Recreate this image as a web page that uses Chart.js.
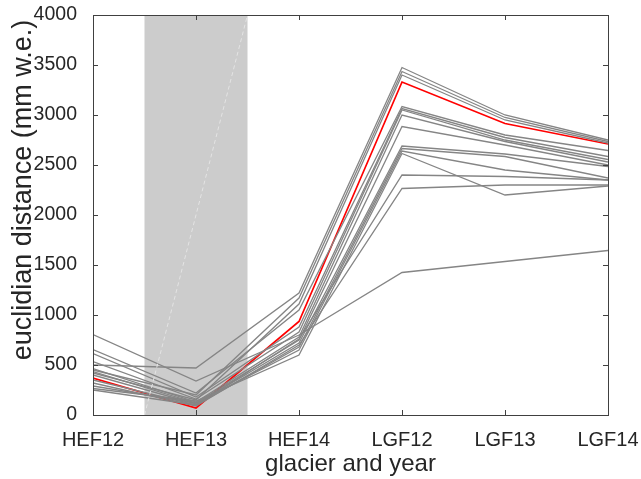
<!DOCTYPE html>
<html>
<head>
<meta charset="utf-8">
<script src="https://cdn.jsdelivr.net/npm/chart.js@4"></script>
<style>
  html, body { margin: 0; padding: 0; background: #fff; }
  #wrap { width: 641px; height: 479px; }
</style>
</head>
<body>
<div id="wrap"><canvas id="distChart"></canvas></div>
<script>
// glacier / year along the x axis
const categories = ['HEF12', 'HEF13', 'HEF14', 'LGF12', 'LGF13', 'LGF14'];
const yTicks = [0, 500, 1000, 1500, 2000, 2500, 3000, 3500, 4000];
const yTitle = 'euclidian distance (mm w.e.)';

// highlighted run (red)
const bestRun = [370, 70, 935, 3330, 2915, 2710];

// the other runs (grey)
const run01 = [500, 470, 1220, 3475, 3000, 2750];
const run02 = [450, 200, 1170, 3435, 2975, 2735];
const run03 = [420, 150, 1110, 3400, 2950, 2720];
const run04 = [805, 340, 800, 1425, 1535, 1645];
const run05 = [655, 220, 1050, 3085, 2800, 2645];
const run06 = [615, 180, 880, 3065, 2775, 2585];
const run07 = [535, 160, 830, 3050, 2750, 2555];
const run08 = [465, 130, 780, 3000, 2735, 2530];
const run09 = [435, 120, 750, 2885, 2700, 2500];
const run10 = [400, 110, 720, 2690, 2610, 2485];
const run11 = [350, 100, 680, 2665, 2585, 2370];
const run12 = [290, 120, 650, 2640, 2450, 2350];
const run13 = [265, 140, 600, 2615, 2200, 2290];
const run14 = [250, 100, 760, 2400, 2385, 2350];
const run15 = [320, 90, 700, 2265, 2300, 2300];
const greyRuns = [run01, run02, run03, run04, run05, run06, run07, run08,
                  run09, run10, run11, run12, run13, run14, run15];

// shaded HEF13 band and the faint diagonal inside it
const bandFrom = 0.5, bandTo = 1.5;
const diagX = [0.5, 1.5];
const diagY = [0, 4000];

const toPoints = vals => vals.map((v, i) => ({ x: i, y: v }));

const datasets = greyRuns.map(r => ({
    data: toPoints(r),
    borderColor: '#858585',
    borderWidth: 1.3,
    pointRadius: 0,
    tension: 0
}));
datasets.push({
    data: toPoints(bestRun),
    borderColor: '#ff0000',
    borderWidth: 1.7,
    pointRadius: 0,
    tension: 0
});
datasets.unshift({
    data: diagX.map((x, i) => ({ x: x, y: diagY[i] })),
    borderColor: '#e4e4e4',
    borderWidth: 1,
    borderDash: [4, 3],
    pointRadius: 0
});

const textColor = '#262626';
const axisColor = '#404040';

// grey band behind the lines, box + inward ticks + y title on top
const boxPlugin = {
    id: 'boxPlugin',
    beforeDatasetsDraw(chart) {
        const { ctx, chartArea, scales } = chart;
        const x0 = scales.x.getPixelForValue(bandFrom);
        const x1 = scales.x.getPixelForValue(bandTo);
        ctx.save();
        ctx.fillStyle = '#cccccc';
        ctx.fillRect(x0, chartArea.top, x1 - x0, chartArea.bottom - chartArea.top);
        ctx.restore();
    },
    afterDraw(chart) {
        const { ctx, chartArea: a, scales } = chart;
        const len = 5;
        ctx.save();
        ctx.strokeStyle = axisColor;
        ctx.lineWidth = 1;
        ctx.strokeRect(Math.round(a.left) + 0.5, Math.round(a.top) + 0.5,
                       Math.round(a.right - a.left), Math.round(a.bottom - a.top));
        ctx.beginPath();
        scales.y.ticks.forEach(t => {
            const y = Math.round(scales.y.getPixelForValue(t.value)) + 0.5;
            ctx.moveTo(a.left, y); ctx.lineTo(a.left + len, y);
            ctx.moveTo(a.right, y); ctx.lineTo(a.right - len, y);
        });
        scales.x.ticks.forEach(t => {
            const x = Math.round(scales.x.getPixelForValue(t.value)) + 0.5;
            ctx.moveTo(x, a.bottom); ctx.lineTo(x, a.bottom - len);
            ctx.moveTo(x, a.top); ctx.lineTo(x, a.top + len);
        });
        ctx.stroke();

        // rotated y title, sitting a little above the chart-area centre
        ctx.translate(24, (a.top + a.bottom) / 2 - 25);
        ctx.rotate(-Math.PI / 2);
        ctx.fillStyle = textColor;
        ctx.font = '27px "Liberation Sans", Arial';
        ctx.textAlign = 'center';
        ctx.textBaseline = 'middle';
        ctx.fillText(yTitle, 0, 0);
        ctx.restore();
    }
};

new Chart(document.getElementById('distChart').getContext('2d'), {
    type: 'line',
    data: { datasets: datasets },
    plugins: [boxPlugin],
    options: {
        responsive: true,
        maintainAspectRatio: false,
        animation: false,
        layout: { padding: { left: 0, right: 33, top: 15, bottom: 0 } },
        plugins: {
            legend: { display: false },
            tooltip: { enabled: false }
        },
        scales: {
            x: {
                type: 'linear',
                min: 0,
                max: 5,
                afterFit: s => { s.height = 64; s.paddingLeft = 0; s.paddingRight = 0; },
                afterBuildTicks: s => { s.ticks = categories.map((c, i) => ({ value: i })); },
                grid: { display: false },
                border: { display: false },
                ticks: {
                    color: textColor,
                    font: { family: 'Liberation Sans, Arial', size: 20 },
                    padding: 5,
                    maxRotation: 0,
                    autoSkip: false,
                    callback: v => categories[v]
                },
                title: {
                    display: true,
                    text: 'glacier and year',
                    color: textColor,
                    font: { family: 'Liberation Sans, Arial', size: 24 },
                    padding: { top: 0, bottom: 0 }
                }
            },
            y: {
                min: 0,
                max: 4000,
                afterFit: s => { s.width = 93; s.paddingTop = 0; s.paddingBottom = 0; },
                afterBuildTicks: s => { s.ticks = yTicks.map(v => ({ value: v })); },
                grid: { display: false },
                border: { display: false },
                ticks: {
                    color: textColor,
                    font: { family: 'Liberation Sans, Arial', size: 19.5 },
                    padding: 8,
                    callback: v => String(v)
                },
                title: { display: false }
            }
        }
    }
});
</script>
</body>
</html>
